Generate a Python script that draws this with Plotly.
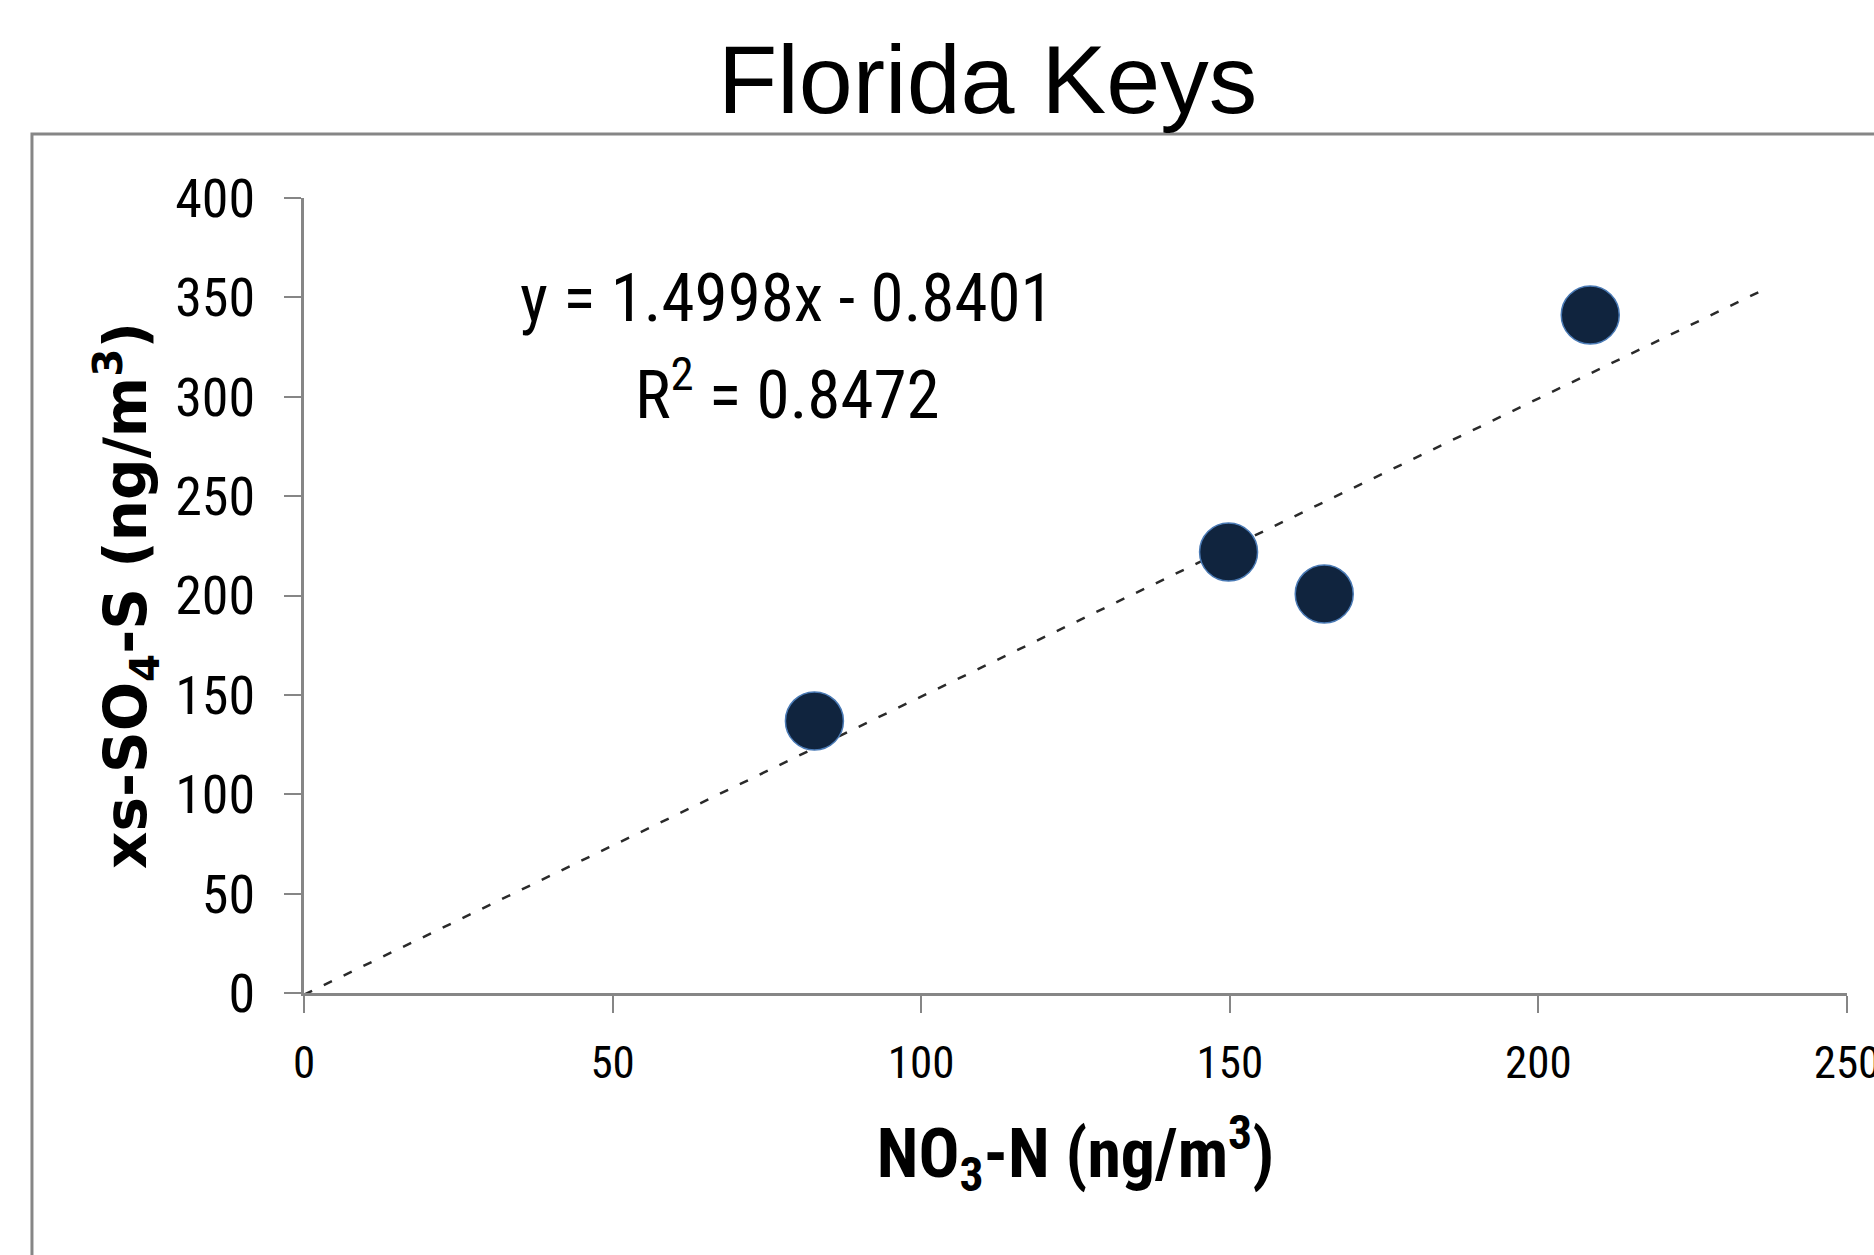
import plotly.graph_objects as go

# ---- data ----
no3_n = [82.7, 149.8, 165.3, 208.4]          # x: NO3-N (ng/m3)
xs_so4_s = [136.9, 221.9, 200.8, 341.1]      # y: xs-SO4-S (ng/m3)
trend_slope = 1.4998
trend_intercept = -0.8401
trend_r2 = 0.8472
trend_x_extent = [0, 237.5]
x_ticks = [0, 50, 100, 150, 200, 250]
y_ticks = [0, 50, 100, 150, 200, 250, 300, 350, 400]

trend_y = [trend_slope * v + trend_intercept for v in trend_x_extent]

AXIS_GRAY = "#868686"
NARROW = "Liberation Sans Narrow, Arial Narrow, Roboto Condensed, sans-serif"

fig = go.Figure()
fig.add_trace(go.Scatter(
    x=trend_x_extent, y=trend_y, mode="lines",
    line=dict(color="#2a2a2a", width=2.5, dash="9px,13px"),
    hoverinfo="skip", showlegend=False))
fig.add_trace(go.Scatter(
    x=no3_n, y=xs_so4_s, mode="markers",
    marker=dict(size=58, color="#10243e", line=dict(color="#4a7ab5", width=1.5)),
    showlegend=False))

fig.add_annotation(
    x=78.2, y=349.7, xref="x", yref="y", showarrow=False,
    text=f"y = {trend_slope:.4f}x - {abs(trend_intercept):.4f}",
    font=dict(family=NARROW, size=67, color="#000000"),
    xanchor="center", yanchor="middle")
fig.add_annotation(
    x=78.4, y=303.4, xref="x", yref="y", showarrow=False,
    text=f"R<sup>2</sup> = {trend_r2:.4f}",
    font=dict(family=NARROW, size=67, color="#000000"),
    xanchor="center", yanchor="middle")

# outer chart border
fig.add_shape(type="rect", xref="paper", yref="paper",
              x0=-0.1763, y0=-0.5, x1=1.2, y1=1.0805,
              line=dict(color=AXIS_GRAY, width=3), fillcolor="rgba(0,0,0,0)",
              layer="below")

fig.update_layout(
    width=1874, height=1255,
    margin=dict(l=304, r=27, t=198, b=262, autoexpand=False),
    paper_bgcolor="white", plot_bgcolor="white",
    title=dict(text="Florida Keys", x=0.527, xref="container", xanchor="center",
               y=1 - 79 / 1255, yref="container", yanchor="middle",
               font=dict(family="Liberation Sans, Arial, sans-serif", size=97, color="#000000")),
)
fig.update_xaxes(
    range=[0, 250], tickvals=x_ticks, ticktext=[str(v) for v in x_ticks],
    automargin=False,
    showgrid=False, zeroline=False,
    showline=True, linecolor=AXIS_GRAY, linewidth=3,
    ticks="outside", ticklen=17, tickwidth=2, tickcolor=AXIS_GRAY,
    ticklabelstandoff=11, ticklabeloverflow="allow",
    tickfont=dict(family=NARROW, size=45, color="#000000"),
    title=dict(text="<b>NO<sub>3</sub>-N (ng/m<sup>3</sup>)</b>", standoff=42,
               font=dict(family=NARROW, size=68, color="#000000")),
)
fig.update_yaxes(
    range=[0, 400], tickvals=y_ticks, ticktext=[str(v) for v in y_ticks],
    automargin=False,
    showgrid=False, zeroline=False,
    showline=True, linecolor=AXIS_GRAY, linewidth=3,
    ticks="outside", ticklen=17, tickwidth=2, tickcolor=AXIS_GRAY,
    ticklabelstandoff=18,
    tickfont=dict(family=NARROW, size=54, color="#000000"),
    title=dict(text="<b>xs-SO<sub>4</sub>-S (ng/m<sup>3</sup>)</b>", standoff=10,
               font=dict(family="DejaVu Sans, sans-serif", size=58, color="#000000")),
)

fig.write_html("out.html",
               config={"displayModeBar": False},
               post_script="document.body.style.margin='0';document.body.style.overflow='hidden';")
